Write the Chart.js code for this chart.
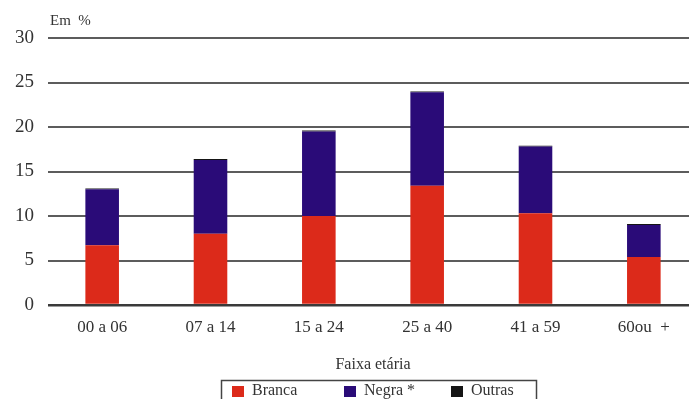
<!DOCTYPE html>
<html>
<head>
<meta charset="utf-8">
<script src="https://cdn.jsdelivr.net/npm/chart.js@4.4.1/dist/chart.umd.min.js"></script>
<style>
  html, body { margin: 0; padding: 0; background: #fff; overflow: hidden; }
  #wrap { width: 700px; height: 399px; }
</style>
</head>
<body>
<div id="wrap"><canvas id="grafico"></canvas></div>
<script>
// faixas etárias e percentuais por cor/raça
const faixas = ['00 a 06', '07 a 14', '15 a 24', '25 a 40', '41 a 59', '60ou  +']
const branca = [6.7, 8.0, 10.0, 13.4, 10.3, 5.4]
const negra = [6.3, 8.3, 9.5, 10.5, 7.5, 3.6]
const outras = [0.1, 0.1, 0.1, 0.1, 0.1, 0.1]
const yTicks = [0, 5, 10, 15, 20, 25, 30]

const fonte = "'Liberation Serif', 'DejaVu Serif', serif"

// legenda com moldura, desenhada abaixo do eixo
const legendaCaixa = {
  id: 'legendaCaixa',
  afterDraw(chart) {
    const c = chart.ctx
    c.save()
    c.strokeStyle = '#444'
    c.lineWidth = 1.5
    c.strokeRect(221.5, 380.5, 315, 22)
    const xs = [232, 344, 451]
    c.font = '16px ' + fonte
    c.textBaseline = 'middle'
    chart.data.datasets.forEach((ds, i) => {
      c.fillStyle = ds.backgroundColor
      c.fillRect(xs[i], 386, 12, 11)
      c.fillStyle = '#333'
      c.fillText(ds.label, xs[i] + 20, 391)
    })
    // "Em %" acima do eixo y
    c.font = '15px ' + fonte
    c.fillStyle = '#333'
    c.textBaseline = 'middle'
    c.fillText('Em  %', chart.chartArea.left + 2, 21)
    c.restore()
  }
}

const ctx = document.getElementById('grafico')

new Chart(ctx, {
  type: 'bar',
  data: {
    labels: faixas,
    datasets: [
      { label: 'Branca', data: branca, backgroundColor: '#dc2a1a' },
      { label: 'Negra *', data: negra, backgroundColor: '#2a0b78' },
      { label: 'Outras', data: outras, backgroundColor: '#151515' }
    ]
  },
  options: {
    responsive: true,
    maintainAspectRatio: false,
    animation: false,
    layout: { padding: { top: 38, right: 2, left: 0, bottom: 0 } },
    datasets: {
      bar: { barPercentage: 0.31, categoryPercentage: 1, borderWidth: 0 }
    },
    scales: {
      x: {
        stacked: true,
        grid: { display: false, drawTicks: false },
        border: { display: false },
        ticks: { color: '#333', font: { family: fonte, size: 17 }, padding: 12 },
        title: {
          display: true,
          text: 'Faixa etária',
          color: '#333',
          font: { family: fonte, size: 16 },
          padding: { top: 0, bottom: 25 }
        },
        afterFit(scale) { scale.height = 94 }
      },
      y: {
        stacked: true,
        min: 0,
        max: 30,
        afterBuildTicks(scale) { scale.ticks = yTicks.map(v => ({ value: v })) },
        grid: {
          drawTicks: false,
          lineWidth: ctx2 => ctx2.tick.value === 0 ? 2.5 : 2,
          color: ctx2 => ctx2.tick.value === 0 ? '#3a3a3a' : '#5c5c5c'
        },
        border: { display: false },
        ticks: { color: '#333', font: { family: fonte, size: 19 }, padding: 14 },
        afterFit(scale) { scale.width = 48 }
      }
    },
    plugins: {
      legend: { display: false },
      tooltip: { enabled: false }
    }
  },
  plugins: [legendaCaixa]
})
</script>
</body>
</html>
